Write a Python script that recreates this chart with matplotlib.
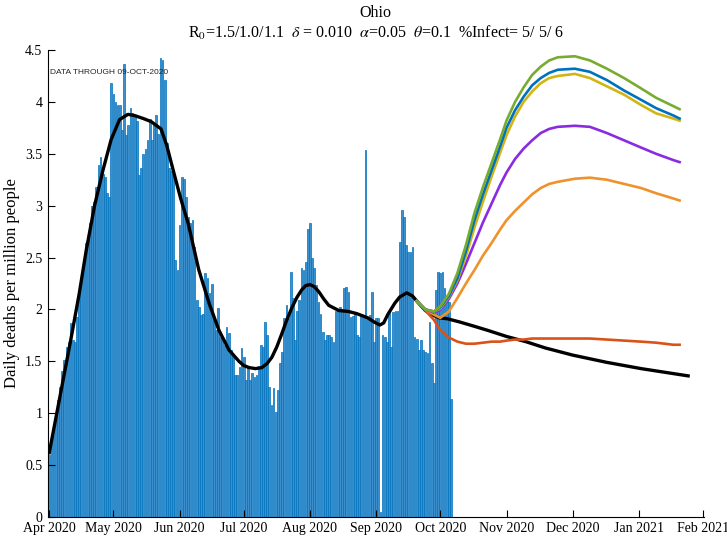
import numpy as np
import matplotlib
matplotlib.use("Agg")
import matplotlib.pyplot as plt

plt.rcParams['font.family'] = ['Liberation Serif', 'DejaVu Serif']
plt.rcParams['mathtext.fontset'] = 'stix'

# Daily deaths per million, one bar per day starting 1 Apr 2020
deaths = [
    0.60, 0.74, 0.87, 1.00, 1.13, 1.25, 1.41, 1.51, 1.64, 1.69,
    1.87, 1.71, 1.69, 1.93, 2.16, 2.28, 2.41, 2.64, 2.70, 2.83,
    3.00, 3.04, 3.18, 3.39, 3.47, 3.31, 3.28, 3.12, 3.08, 4.18,
    4.08, 4.00, 3.97, 3.97, 3.73, 4.37, 3.68, 3.78, 3.94, 3.89,
    3.87, 3.82, 3.30, 3.36, 3.50, 3.55, 3.63, 3.84,
    3.63, 3.80, 3.87, 3.69, 4.42, 4.40, 4.21, 3.60, 3.36, 3.33,
    3.30, 2.48, 2.38, 2.81, 3.28, 3.26, 3.08, 2.89, 2.83, 2.86,
    2.60, 2.09, 2.02, 1.95, 1.96, 2.35, 2.30, 2.16, 2.25, 1.92,
    1.80, 2.01, 1.73, 1.73, 1.66, 1.83, 1.77, 1.61, 1.54, 1.37,
    1.37, 1.45, 1.63, 1.54, 1.32, 1.46, 1.32, 1.39,
    1.35, 1.37, 1.46, 1.66, 1.64, 1.88, 1.75, 1.25, 1.08, 1.24,
    1.01, 1.22, 1.48, 1.59, 1.92, 2.04, 1.92, 2.36, 2.11, 1.71,
    1.99, 2.09, 2.40, 2.38, 2.46, 2.78, 2.83, 2.50, 2.40, 2.24,
    2.07, 1.96, 1.78, 1.71, 1.75, 1.75, 1.73, 1.69, 1.99, 1.99,
    2.02, 2.00, 2.21, 2.22, 2.17, 1.93, 1.94, 1.96,
    1.75, 1.73, 1.96, 1.93, 3.54, 1.92, 1.95, 2.17, 1.69, 1.92,
    1.92, 0.05, 1.75, 1.73, 1.69, 1.98, 1.64, 1.98, 1.99, 1.99,
    2.65, 2.96, 2.89, 2.62, 2.55, 2.55, 2.60, 1.73, 1.72, 1.61,
    1.71, 1.61, 1.59, 1.58, 1.88, 1.48, 1.29, 2.19, 2.36, 2.35,
    2.36, 2.21, 2.09, 2.07, 1.14,
]

# model fit (days since 1 Apr 2020)
fit_days = [0, 5, 10, 14, 17.3, 21.2, 25.1, 29, 32.9, 36.8, 39.7, 44, 47.7,
            52.3, 55, 58.4, 61.5, 65, 70, 74.8, 79.4, 84.1, 88.8, 91, 93.5,
            96.5, 99.5, 102, 104.2, 106.5, 108.9, 111, 113.6, 116, 118.2, 120,
            122, 124, 126.2, 128.5, 130.8, 135.5, 140.2, 143.9, 149, 152,
            154.7, 156.5, 158.4, 161.7, 164, 167.3, 170, 172.9, 176, 179,
            182.5, 186.4, 192, 198.6, 205, 214, 223, 232, 245, 261, 277, 299]
fit_vals = [0.62, 1.16, 1.70, 2.15, 2.57, 3.00, 3.34, 3.64, 3.83, 3.88, 3.87,
            3.84, 3.81, 3.74, 3.58, 3.31, 3.07, 2.83, 2.38, 2.06, 1.80, 1.61,
            1.50, 1.46, 1.44, 1.43, 1.44, 1.48, 1.54, 1.64, 1.77, 1.89, 2.02,
            2.12, 2.19, 2.23, 2.24, 2.22, 2.17, 2.10, 2.04, 1.99, 1.98, 1.96,
            1.92, 1.88, 1.85, 1.87, 1.95, 2.06, 2.12, 2.16, 2.13, 2.06, 1.99,
            1.95, 1.92, 1.91, 1.88, 1.84, 1.80, 1.74, 1.69, 1.63, 1.56, 1.49,
            1.43, 1.36]

# projections
proj_days = [172, 176, 180, 183, 187, 191, 195, 199, 203, 207, 211, 214, 218,
             222, 226, 230, 234, 238, 246, 253, 261, 269, 277, 284, 292, 295]
proj_red = [2.08, 1.99, 1.90, 1.80, 1.73, 1.69, 1.67, 1.67, 1.68, 1.69, 1.69,
            1.70, 1.71, 1.71, 1.72, 1.72, 1.72, 1.72, 1.72, 1.72, 1.71, 1.70,
            1.69, 1.68, 1.66, 1.66]
proj_orange = [2.08, 2.00, 1.95, 1.92, 1.98, 2.11, 2.25, 2.38, 2.52, 2.64,
               2.77, 2.86, 2.95, 3.03, 3.11, 3.17, 3.21, 3.23, 3.26, 3.27,
               3.25, 3.21, 3.17, 3.12, 3.07, 3.05]
proj_purple = [2.08, 2.00, 1.97, 2.00, 2.10, 2.25, 2.44, 2.64, 2.84, 3.02,
               3.20, 3.32, 3.45, 3.55, 3.63, 3.70, 3.74, 3.76, 3.77, 3.76,
               3.70, 3.63, 3.56, 3.50, 3.44, 3.42]
proj_yellow = [2.08, 2.00, 1.98, 2.01, 2.12, 2.28, 2.51, 2.79, 3.04, 3.28,
               3.51, 3.68, 3.86, 4.00, 4.10, 4.18, 4.23, 4.25, 4.27, 4.23,
               4.15, 4.07, 3.97, 3.89, 3.84, 3.82]
proj_blue = [2.08, 2.00, 1.98, 2.02, 2.13, 2.30, 2.56, 2.86, 3.11, 3.34, 3.57,
             3.75, 3.92, 4.05, 4.16, 4.23, 4.28, 4.31, 4.32, 4.29, 4.21, 4.11,
             4.02, 3.94, 3.87, 3.84]
proj_green = [2.08, 2.00, 1.98, 2.03, 2.15, 2.35, 2.62, 2.93, 3.18, 3.41,
              3.64, 3.82, 4.00, 4.14, 4.26, 4.34, 4.40, 4.43, 4.44, 4.40,
              4.32, 4.23, 4.13, 4.04, 3.96, 3.93]

month_days = [0, 30, 61, 91, 122, 153, 183, 214, 245, 276, 306]
month_labels = ['Apr 2020', 'May 2020', 'Jun 2020', 'Jul 2020', 'Aug 2020',
                'Sep 2020', 'Oct 2020', 'Nov 2020', 'Dec 2020', 'Jan 2021',
                'Feb 2021']

fig = plt.figure(figsize=(7.27, 5.38), dpi=100)
ax = fig.add_axes([0.066, 0.039, 0.902, 0.868])

ax.bar(np.arange(len(deaths)), deaths, width=0.8, color='#3b8fcc',
       edgecolor='#0072BD', linewidth=0.5, zorder=1)
ax.plot(fit_days, fit_vals, color='black', lw=2.4, zorder=2,
        solid_joinstyle='round')
for vals, col in [(proj_red, '#D95319'), (proj_orange, '#F0922B'),
                  (proj_purple, '#8A2BE2'), (proj_yellow, '#D2B513'),
                  (proj_blue, '#0072BD'), (proj_green, '#77AC30')]:
    ax.plot(proj_days, vals, color=col, lw=1.9, zorder=3,
            solid_joinstyle='round')

ax.set_xlim(-0.6, 306.3)
ax.set_ylim(0, 4.5)
ax.set_xticks(month_days)
ax.set_xticklabels(month_labels)
ax.set_yticks(np.arange(0, 4.51, 0.5))
ax.set_yticklabels(['0', '0.5', '1', '1.5', '2', '2.5', '3', '3.5', '4', '4.5'])
ax.tick_params(direction='in', length=5, width=0.8, labelsize=10)
ax.tick_params(axis='x', pad=3.5)
ax.tick_params(axis='y', pad=4)
ax.spines['top'].set_visible(False)
ax.spines['right'].set_visible(False)

ax.set_ylabel('Daily deaths per million people', fontsize=12, labelpad=4)
ax.set_title('Ohio\n' + r'R$_0$=1.5/1.0/1.1  $\delta$ = 0.010  $\alpha$=0.05  '
             r'$\theta$=0.1  %Infect= 5/ 5/ 6', fontsize=11.5, pad=9,
             linespacing=1.15)
ax.text(0.3, 4.28, 'DATA THROUGH 09-OCT-2020', fontsize=6,
        family='Liberation Sans', color='#262626', va='center', ha='left')

fig.savefig('out.png', dpi=100)
